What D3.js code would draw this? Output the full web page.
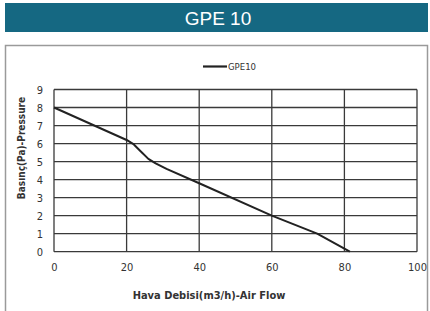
<!DOCTYPE html>
<html><head><meta charset="utf-8">
<script src="https://cdn.jsdelivr.net/npm/d3@7"></script>
<style>body{margin:0;background:#fff}svg{display:block}</style>
</head><body>
<svg id="c" width="430" height="311"></svg>
<script>
const title = "GPE 10";
const seriesName = "GPE10";
const flow = [0, 10, 20, 22, 24, 26, 28, 31, 40, 60, 72.5, 81.5];
const pressure = [8, 7.1, 6.2, 5.95, 5.55, 5.15, 4.9, 4.6, 3.8, 2.0, 1.0, 0];
const xTicks = [0, 20, 40, 60, 80, 100];
const yTicks = [0, 1, 2, 3, 4, 5, 6, 7, 8, 9];
const xTitle = "Hava Debisi(m3/h)-Air Flow";
const yTitle = "Basınç(Pa)-Pressure";

const svg = d3.select("#c");
const font = "'Liberation Sans Narrow','DejaVu Sans Condensed','Liberation Sans',sans-serif";

// title bar
svg.append("rect").attr("x",5).attr("y",3).attr("width",423).attr("height",29).attr("fill","#156882");
svg.append("text").attr("x",218).attr("y",24.5).attr("text-anchor","middle")
  .attr("font-family","Arial,'Liberation Sans',sans-serif").attr("font-size",19).attr("fill","#fff").text(title);

// panel
svg.append("rect").attr("x",5.5).attr("y",45.5).attr("width",422).attr("height",280)
  .attr("fill","#fff").attr("stroke","#9a9a9a").attr("stroke-width",1.5);

const x = d3.scaleLinear().domain([0,100]).range([54,417]);
const y = d3.scaleLinear().domain([0,9]).range([251.7,89.5]);

const g = svg.append("g");
g.selectAll(".h").data(yTicks).join("line")
  .attr("x1",x(0)).attr("x2",x(100)).attr("y1",d=>y(d)).attr("y2",d=>y(d))
  .attr("stroke","#3a3a3a").attr("stroke-width",1.3);
g.selectAll(".v").data(xTicks).join("line")
  .attr("y1",y(0)).attr("y2",y(9)).attr("x1",d=>x(d)).attr("x2",d=>x(d))
  .attr("stroke","#3a3a3a").attr("stroke-width",1.3);

const xa = svg.append("g").attr("transform",`translate(0,${y(0)})`)
  .call(d3.axisBottom(x).tickValues(xTicks).tickSize(0).tickPadding(12));
const ya = svg.append("g").attr("transform",`translate(${x(0)},0)`)
  .call(d3.axisLeft(y).tickValues(yTicks).tickSize(0).tickPadding(11));
[xa,ya].forEach(a=>{
  a.select(".domain").remove();
  a.selectAll("text").attr("font-family",font).attr("font-size",11).attr("font-weight","normal").attr("fill","#333");
});

svg.append("path").datum(flow.map((f,i)=>[f,pressure[i]]))
  .attr("d", d3.line().x(d=>x(d[0])).y(d=>y(d[1])))
  .attr("fill","none").attr("stroke","#222").attr("stroke-width",2).attr("stroke-linejoin","round");

// legend
svg.append("line").attr("x1",203).attr("x2",227).attr("y1",66.5).attr("y2",66.5).attr("stroke","#222").attr("stroke-width",2.2);
svg.append("text").attr("x",228).attr("y",70).attr("font-family",font).attr("font-size",9.5).attr("fill","#333").text(seriesName);

// axis titles
svg.append("text").attr("x",209).attr("y",299).attr("text-anchor","middle")
  .attr("font-family",font).attr("font-size",11).attr("font-weight","bold").attr("fill","#333").text(xTitle);
svg.append("text").attr("transform","translate(25,148) rotate(-90)").attr("text-anchor","middle")
  .attr("font-family",font).attr("font-size",10).attr("font-weight","bold").attr("fill","#333").text(yTitle);
</script>
</body></html>
